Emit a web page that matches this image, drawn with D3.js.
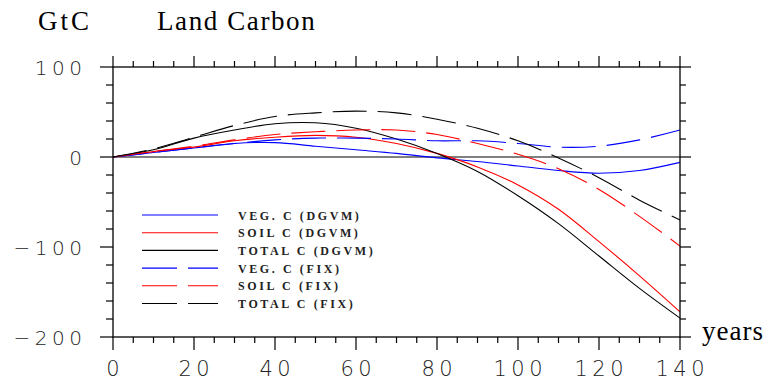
<!DOCTYPE html>
<html>
<head>
<meta charset="utf-8">
<script src="https://cdn.jsdelivr.net/npm/d3@7"></script>
<style>
  body { margin: 0; background: #fff; }
  svg { display: block; }
</style>
</head>
<body>
<svg id="chart" width="769" height="381"></svg>
<script>
// years along the x axis (every 10 years)
const years = [0, 10, 20, 30, 40, 50, 60, 70, 80, 90, 100, 110, 120, 130, 140];

// carbon change in GtC
const vegDgvm   = [0, 5, 10, 15, 16, 12, 8, 4, -1, -5, -10, -15, -18, -15, -6];
const soilDgvm  = [0, 6, 11, 18, 22, 24, 22, 15, 4, -11, -31, -58, -94, -132, -172];
const totalDgvm = [0, 8, 21, 30, 37, 38, 32, 20, 4, -16, -43, -74, -110, -146, -179];
const vegFix    = [0, 5, 10, 15, 19, 21, 21, 20, 18, 18, 15, 11, 12, 19, 30];
const soilFix   = [0, 6, 12, 19, 25, 28, 30, 30, 25, 15, 3, -13, -36, -66, -99];
const totalFix  = [0, 9, 22, 35, 45, 49, 51, 49, 42, 32, 18, -1, -23, -48, -70];

const xTicks = [0, 20, 40, 60, 80, 100, 120, 140];
const yTicks = [100, 0, -100, -200];

const series = [
  {label: "VEG. C (DGVM)",   values: vegDgvm,   color: "#0000ff", dashed: false},
  {label: "SOIL C (DGVM)",   values: soilDgvm,  color: "#ff0000", dashed: false},
  {label: "TOTAL C (DGVM)",  values: totalDgvm, color: "#000000", dashed: false},
  {label: "VEG. C (FIX)",    values: vegFix,    color: "#0000ff", dashed: true},
  {label: "SOIL C (FIX)",    values: soilFix,   color: "#ff0000", dashed: true},
  {label: "TOTAL C (FIX)",   values: totalFix,  color: "#000000", dashed: true}
];

const svg = d3.select("#chart");
const plotLeft = 113, plotRight = 680, plotTop = 67, plotBottom = 337;

const x = d3.scaleLinear().domain([0, 140]).range([plotLeft, plotRight]);
const y = d3.scaleLinear().domain([-200, 100]).range([plotBottom, plotTop]);

const dash = "34,11";

// zero reference line
svg.append("line")
  .attr("x1", plotLeft).attr("x2", plotRight)
  .attr("y1", y(0)).attr("y2", y(0))
  .attr("stroke", "#000").attr("stroke-width", 1.2);

// curves
const line = d3.line()
  .x((d, i) => x(years[i]))
  .y(d => y(d))
  .curve(d3.curveCatmullRom);

svg.selectAll(".curve")
  .data(series)
  .enter().append("path")
  .attr("class", "curve")
  .attr("d", d => line(d.values))
  .attr("fill", "none")
  .attr("stroke", d => d.color)
  .attr("stroke-width", 1.1)
  .attr("stroke-dasharray", d => d.dashed ? dash : null);

// frame
svg.append("rect")
  .attr("x", plotLeft).attr("y", plotTop)
  .attr("width", plotRight - plotLeft).attr("height", plotBottom - plotTop)
  .attr("fill", "none").attr("stroke", "#000").attr("stroke-width", 1.3);

// ticks, all pointing outwards
const ticks = svg.append("g").attr("stroke", "#000").attr("stroke-width", 1.2);
const xMinor = d3.range(0, 141, 5).filter(v => v % 20 !== 0);
const yMinor = d3.range(-200, 101, 20).filter(v => v % 100 !== 0);

xTicks.forEach(v => {
  ticks.append("line").attr("x1", x(v)).attr("x2", x(v)).attr("y1", plotBottom).attr("y2", plotBottom + 13);
  ticks.append("line").attr("x1", x(v)).attr("x2", x(v)).attr("y1", plotTop).attr("y2", plotTop - 11);
});
xMinor.forEach(v => {
  ticks.append("line").attr("x1", x(v)).attr("x2", x(v)).attr("y1", plotBottom).attr("y2", plotBottom + 6);
  ticks.append("line").attr("x1", x(v)).attr("x2", x(v)).attr("y1", plotTop).attr("y2", plotTop - 6);
});
yTicks.forEach(v => {
  ticks.append("line").attr("x1", plotLeft - 13).attr("x2", plotLeft).attr("y1", y(v)).attr("y2", y(v));
  ticks.append("line").attr("x1", plotRight).attr("x2", plotRight + 11).attr("y1", y(v)).attr("y2", y(v));
});
yMinor.forEach(v => {
  ticks.append("line").attr("x1", plotLeft - 7).attr("x2", plotLeft).attr("y1", y(v)).attr("y2", y(v));
  ticks.append("line").attr("x1", plotRight).attr("x2", plotRight + 6).attr("y1", y(v)).attr("y2", y(v));
});

// tick labels
const tickFont = "'DejaVu Sans', sans-serif";
const spacing = 4.5;

svg.selectAll(".xlab")
  .data(xTicks)
  .enter().append("text")
  .attr("class", "xlab")
  .attr("x", d => x(d) + spacing / 2)
  .attr("y", 376)
  .attr("text-anchor", "middle")
  .style("font-family", tickFont)
  .style("font-size", "21px")
  .style("font-weight", 300)
  .style("letter-spacing", spacing + "px")
  .attr("fill", "#222")
  .text(d => d);

svg.selectAll(".ylab")
  .data(yTicks)
  .enter().append("text")
  .attr("class", "ylab")
  .attr("x", 82 + spacing)
  .attr("y", d => y(d) + 7.5)
  .attr("text-anchor", "end")
  .style("font-family", tickFont)
  .style("font-size", "20px")
  .style("font-weight", 300)
  .style("letter-spacing", spacing + "px")
  .attr("fill", "#222")
  .text(d => d < 0 ? "\u2212" + Math.abs(d) : d);

// titles
const serif = "'Liberation Serif', 'Times New Roman', serif";
svg.append("text").attr("x", 38).attr("y", 30)
  .style("font-family", serif).style("font-size", "27px").style("letter-spacing", "3px")
  .text("GtC");
svg.append("text").attr("x", 157).attr("y", 30)
  .style("font-family", serif).style("font-size", "27px").style("letter-spacing", "1.6px")
  .text("Land Carbon");
svg.append("text").attr("x", 702).attr("y", 340)
  .style("font-family", serif).style("font-size", "27px").style("letter-spacing", "1px")
  .text("years");

// legend
const legend = svg.append("g");
series.forEach((s, i) => {
  const ly = 215 + i * 17.7;
  legend.append("line")
    .attr("x1", 142).attr("x2", 218)
    .attr("y1", ly).attr("y2", ly)
    .attr("stroke", s.color).attr("stroke-width", 1.1)
    .attr("stroke-dasharray", s.dashed ? "35,11" : null);
  legend.append("text")
    .attr("x", 238).attr("y", ly + 4.5)
    .style("font-family", serif)
    .style("font-size", "12px")
    .style("font-weight", "bold")
    .style("letter-spacing", "2.6px")
    .attr("fill", "#222")
    .text(s.label);
});
</script>
</body>
</html>
